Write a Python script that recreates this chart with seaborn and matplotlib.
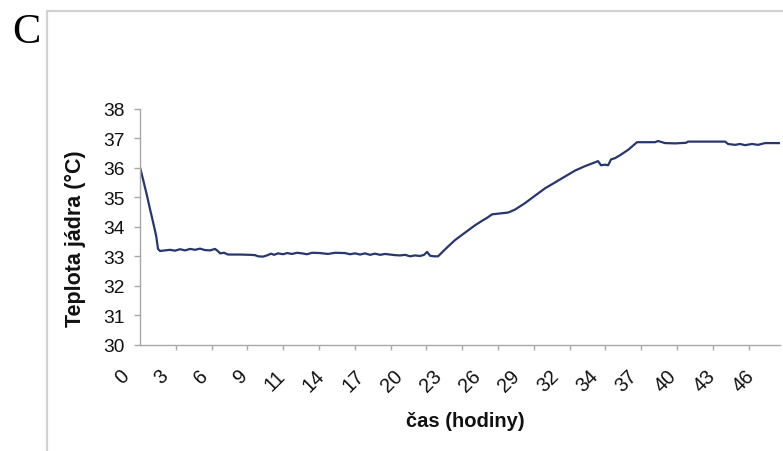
import numpy as np
import pandas as pd
import matplotlib
matplotlib.use("Agg")
import matplotlib.pyplot as plt
from matplotlib.lines import Line2D
from matplotlib.transforms import ScaledTranslation
import seaborn as sns

# ---- data ----
hours = [0.59, 0.81, 1.10, 1.32, 1.55, 1.77, 1.91, 2.06, 2.43, 2.80, 3.16, 3.53,
         3.90, 4.27, 4.64, 5.00, 5.37, 5.74, 6.11, 6.33, 6.48, 6.77, 7.06, 7.95,
         8.68, 9.05, 9.27, 9.64, 9.93, 10.23, 10.45, 10.74, 11.11, 11.41, 11.77,
         12.14, 12.51, 12.88, 13.25, 13.83, 14.42, 14.94, 15.67, 16.04, 16.41,
         16.78, 17.14, 17.51, 17.88, 18.25, 18.62, 18.98, 19.35, 19.72, 20.09,
         20.46, 20.82, 21.19, 21.49, 21.71, 21.93, 22.22, 22.52, 23.18, 23.77,
         24.50, 25.24, 25.75, 26.12, 26.49, 27.08, 27.67, 28.18, 28.92, 29.65,
         30.39, 31.13, 31.86, 32.60, 33.33, 34.07, 34.29, 34.51, 34.80, 35.03,
         35.25, 35.54, 35.91, 36.50, 37.16, 38.48, 38.71, 39.00, 39.22, 39.96,
         40.77, 40.91, 43.64, 43.86, 44.37, 44.74, 45.11, 45.62, 46.06, 46.58,
         47.68]
temps = [36.0, 35.6, 35.05, 34.6, 34.15, 33.7, 33.25, 33.18, 33.2, 33.22, 33.19,
         33.24, 33.2, 33.25, 33.22, 33.26, 33.21, 33.2, 33.25, 33.17, 33.1, 33.12,
         33.06, 33.06, 33.05, 33.04, 33.0, 32.99, 33.03, 33.09, 33.05, 33.1,
         33.07, 33.11, 33.08, 33.12, 33.1, 33.07, 33.12, 33.11, 33.08, 33.12,
         33.11, 33.07, 33.1, 33.06, 33.1, 33.05, 33.09, 33.05, 33.08, 33.06,
         33.04, 33.03, 33.05, 33.0, 33.03, 33.01, 33.05, 33.15, 33.02, 33.0,
         33.0, 33.3, 33.55, 33.8, 34.05, 34.2, 34.3, 34.42, 34.45, 34.48, 34.58,
         34.8, 35.05, 35.3, 35.5, 35.7, 35.9, 36.05, 36.18, 36.22, 36.08, 36.1,
         36.08, 36.28, 36.32, 36.42, 36.6, 36.86, 36.86, 36.9, 36.86, 36.83,
         36.82, 36.84, 36.88, 36.88, 36.8, 36.77, 36.8, 36.76, 36.8, 36.77,
         36.83, 36.83]
x_tick_labels = ["0", "3", "6", "9", "11", "14", "17", "20", "23", "26", "29",
                 "32", "34", "37", "40", "43", "46"]
y_ticks = [30, 31, 32, 33, 34, 35, 36, 37, 38]
x_label = "čas (hodiny)"
y_label = "Teplota jádra (°C)"
panel_letter = "C"

df = pd.DataFrame({"hours": hours, "temp": temps})

# ---- style ----
sns.set_theme(style="white")
plt.rcParams["font.family"] = ["Liberation Sans", "DejaVu Sans"]

W, H = 783, 452
fig = plt.figure(figsize=(W / 100, H / 100), dpi=100)
ax_left, ax_right, ax_top, ax_bottom = 140, 780, 109.5, 346
ax = fig.add_axes([ax_left / W, 1 - ax_bottom / H,
                   (ax_right - ax_left) / W, (ax_bottom - ax_top) / H])

line_color = "#27366f"
sns.lineplot(data=df, x="hours", y="temp", ax=ax, color=line_color,
             linewidth=1.6, estimator=None, sort=False)

# spines
for s in ["top", "right"]:
    ax.spines[s].set_visible(False)
for s in ["left", "bottom"]:
    ax.spines[s].set_color("#a8a8a8")
    ax.spines[s].set_linewidth(1.0)

# y ticks
ax.set_yticks(y_ticks)
ax.set_yticklabels([str(v) for v in y_ticks])
ax.tick_params(axis="y", direction="out", length=4.5, width=1.0,
               color="#a8a8a8", pad=6.5, labelsize=13.8, labelcolor="#111111",
               left=True)

# x ticks: labels (no marks) at label positions, tick marks as minor ticks
x_start = 0.59
label_step = 2.875
ax.set_xticks(x_start + np.arange(len(x_tick_labels)) * label_step)
ax.set_xticklabels(x_tick_labels, rotation=45, ha="right", va="top")
ax.tick_params(axis="x", which="major", length=0, pad=15, labelsize=14.3,
               labelcolor="#111111", bottom=True)
mark_step = 35.8 / 13.59
ax.set_xticks(x_start + np.arange(18) * mark_step, minor=True)
ax.tick_params(axis="x", which="minor", direction="out", length=3.5,
               width=1.0, color="#a8a8a8", bottom=True)

# limits after ticks (set_xticks may expand the view)
ax.set_xlim(x_start - 0.005, 47.68)
ax.set_ylim(30, 38)

# shift rotated labels a little to the left, as in the reference
shift = ScaledTranslation(-7 / 100, 0, fig.dpi_scale_trans)
for lab in ax.get_xticklabels():
    lab.set_transform(lab.get_transform() + shift)

ax.set_xlabel(x_label, fontsize=14.5, fontweight="bold", color="#111111")
ax.set_ylabel(y_label, fontsize=15.5, fontweight="bold", color="#111111")
ax.xaxis.label.set(ha="center", va="center")
ax.yaxis.label.set(ha="center", va="center", rotation_mode="anchor")
ax.xaxis.set_label_coords((465 - ax_left) / (ax_right - ax_left),
                          (ax_bottom - 422) / (ax_bottom - ax_top))
ax.yaxis.set_label_coords((75 - ax_left) / (ax_right - ax_left),
                          (ax_bottom - 239) / (ax_bottom - ax_top))

# outer frame (top and left edges)
frame_color = "#d2d2d2"
fig.add_artist(Line2D([47 / W, 47 / W], [1 - 12 / H, 0], transform=fig.transFigure,
                      color=frame_color, linewidth=1.6))
fig.add_artist(Line2D([47 / W, 1], [1 - 12 / H, 1 - 12 / H], transform=fig.transFigure,
                      color=frame_color, linewidth=1.6))

# panel letter
fig.text(12 / W, 1 - 43 / H, panel_letter, fontsize=30.5,
         family=["Liberation Serif", "DejaVu Serif"], ha="left", va="baseline",
         color="black")

fig.savefig("out.png", dpi=100, facecolor="white")
